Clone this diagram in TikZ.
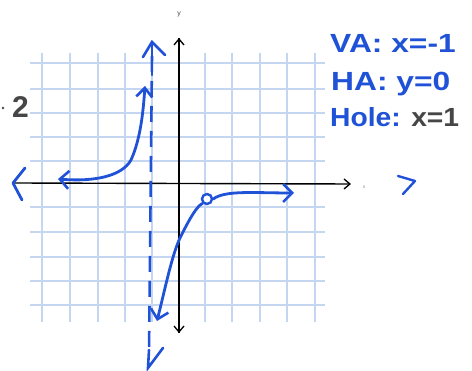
\documentclass[tikz,border=0pt]{standalone}
\usepackage{fontspec}
\usepackage{graphicx}
\setmainfont{Liberation Sans}
\usetikzlibrary{arrows.meta}
\definecolor{pen}{RGB}{32,82,215}
\definecolor{gridc}{RGB}{196,214,242}
\definecolor{pencil}{RGB}{70,70,70}
\newcommand{\widetext}[1]{\scalebox{1.27}[1.05]{#1}}
\tikzset{
  gridline/.style={gridc, line width=1.2pt},
  axis/.style={black, line width=1.4pt, -{Straight Barb[length=6pt,width=10pt,line width=1.3pt]}},
  curve/.style={pen, line width=2.8pt, line cap=round, line join=round},
  hand/.style={pen, font=\fontsize{25}{25}\selectfont\bfseries, anchor=base west, inner sep=0pt},
}
\begin{document}
\begin{tikzpicture}[x=1pt,y=-1pt]
\useasboundingbox (0,0) rectangle (472,371);
\fill[white] (0,0) rectangle (472,371);
% grid
\foreach \gx in {42,70,98,125,152,179,205,232,260,287,315}
  \draw[gridline] (\gx,53) -- (\gx,322);
\foreach \gy in {63,89,113,137,161,207,232,257,281,305}
  \draw[gridline] (30,\gy) -- (325,\gy);
% axes
\coordinate (xl) at (14,183);
\coordinate (xr) at (351,184);
\coordinate (yt) at (179,38);
\coordinate (yb) at (179,333);
\draw[axis] (xl) -- (xr);
\draw[axis] (yb) -- (yt);
\draw[axis] (yt) -- (yb);
\node[pencil, font=\scriptsize, inner sep=0pt] (ylab) at (179,14) {y};
\node[pencil!60, font=\tiny, inner sep=0pt] (xlab) at (364,187) {x};
% vertical asymptote (dashed)
\coordinate (vat) at (152,42);
\coordinate (vab) at (148,368);
\draw[pen, line width=2.6pt, dash pattern=on 16pt off 9pt] (152,56) -- (149,352);
\draw[pen, line width=2.6pt, line cap=round] (152,75) -- (vat);
\draw[pen, line width=2.6pt, line cap=round] (143,57) -- (vat) -- (165,55);
\draw[pen, line width=2.6pt, line cap=round] (149,350) -- (vab) -- (163,348);
% left branch
\coordinate (la) at (58,179);
\coordinate (lt) at (145,86);
\draw[curve, {Straight Barb[length=9pt,width=18pt,line width=2.6pt]}-{Straight Barb[length=9pt,width=16pt,line width=2.6pt]}]
  (la) .. controls (95,182) and (122,176) .. (131,160)
  .. controls (140,140) and (143,115) .. (lt);
% blue chevron on left end of axis
\draw[curve] (25,168) -- (13,183) -- (22,200);
% right branch
\coordinate (rb) at (157,321);
\node[draw=pen, line width=2.4pt, circle, minimum size=10pt, inner sep=0pt, fill=white] (hole) at (207,199) {};
\coordinate (rr) at (294,193);
\draw[curve, {Straight Barb[length=9pt,width=18pt,line width=2.6pt]}-] (rb) .. controls (166,285) and (173,250) .. (182,234)
  .. controls (190,218) and (197,206) .. (hole.south west);
\draw[curve, -{Straight Barb[length=9pt,width=18pt,line width=2.6pt]}] (hole.east) .. controls (225,190) and (255,193) .. (rr);
% greater-than mark
\draw[curve, line width=2.4pt] (398,176) -- (415,181) -- (403,194);
% annotations
\node[hand] (va) at (330,53) {\widetext{VA: x=-1}};
\node[hand] (ha) at (331,91) {\widetext{HA: y=0}};
\node[hand] (hole-t) at (330,127) {\scalebox{1.13}[1.05]{Hole: \textcolor{pencil}{x=1}}};
\node[pencil, font=\fontsize{30}{30}\selectfont\bfseries, anchor=base west, inner sep=0pt] (two) at (12,118) {2};
\fill[pencil] (3,108) circle (1.3pt);
\end{tikzpicture}
\end{document}
